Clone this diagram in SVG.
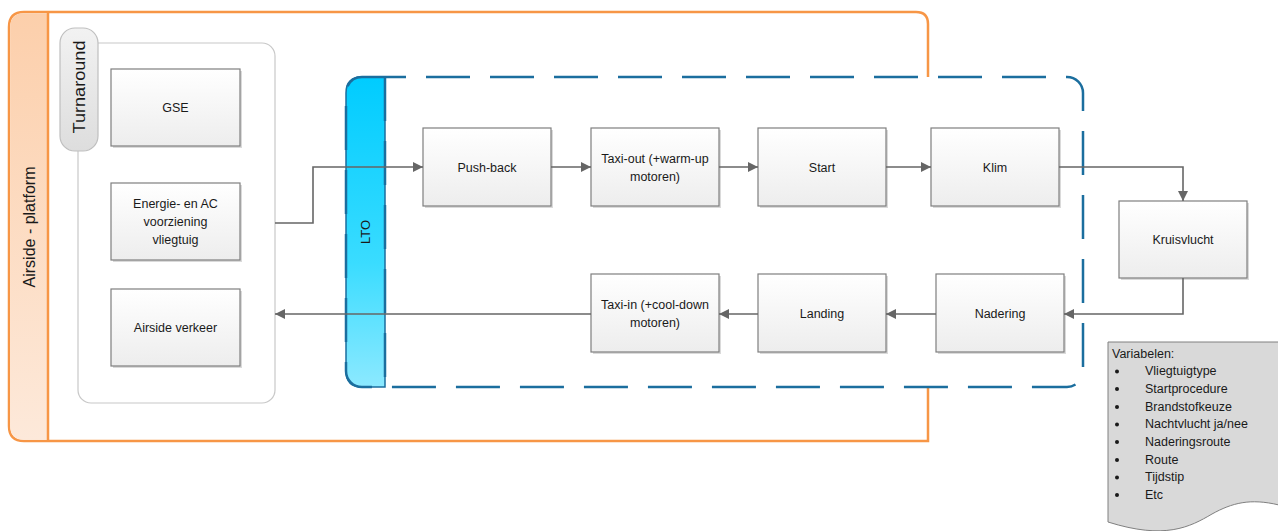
<svg xmlns="http://www.w3.org/2000/svg" width="1278" height="531" viewBox="0 0 1278 531">
<defs>
<linearGradient id="gBox" x1="0" y1="0" x2="0" y2="1"><stop offset="0" stop-color="#FFFFFF"/><stop offset="1" stop-color="#EDEDED"/></linearGradient>
<linearGradient id="gPeach" x1="0" y1="0" x2="0" y2="1"><stop offset="0" stop-color="#FCCFAB"/><stop offset="1" stop-color="#FDE9DA"/></linearGradient>
<linearGradient id="gCyan" x1="0" y1="0" x2="0" y2="1"><stop offset="0" stop-color="#00CCFF"/><stop offset="0.6" stop-color="#3ADCFF"/><stop offset="1" stop-color="#8CE9FF"/></linearGradient>
<linearGradient id="gTab" x1="0" y1="0" x2="0" y2="1"><stop offset="0" stop-color="#F2F2F2"/><stop offset="1" stop-color="#DDDDDD"/></linearGradient>
<marker id="arr" viewBox="0 0 10 10" refX="10" refY="5" markerWidth="10" markerHeight="10" markerUnits="userSpaceOnUse" orient="auto"><path d="M0,0 L10,5 L0,10 Z" fill="#666666"/></marker>
</defs>
<style>
.box{fill:url(#gBox);stroke:#7F7F7F;stroke-width:1.2}
.shadow{fill:#DADADA}
.t{font-family:"Liberation Sans",Arial,sans-serif;font-size:12.5px;fill:#1A1A1A;text-anchor:middle}
.c{fill:none;stroke:#666666;stroke-width:1.6;marker-end:url(#arr)}
.v{font-family:"Liberation Sans",Arial,sans-serif;font-size:12.5px;fill:#1A1A1A}
</style>
<rect width="1278" height="531" fill="#FFFFFF"/>

<g id="airside-platform">
<path d="M24,12 H916 Q928,12 928,24 V441 H24 Q9,441 9,426 V27 Q9,12 24,12 Z" fill="#FFFFFF" stroke="#F79646" stroke-width="2.5"/>
<path d="M24,13.2 H48 V439.8 H24 Q10.2,439.8 10.2,426 V27 Q10.2,13.2 24,13.2 Z" fill="url(#gPeach)"/>
<line x1="48" y1="12" x2="48" y2="441" stroke="#F79646" stroke-width="2.5"/>
<text x="0" y="0" transform="translate(35,227) rotate(-90)" font-family="Liberation Sans,Arial,sans-serif" font-size="16" fill="#1A1A1A" text-anchor="middle">Airside - platform</text>
</g>

<g id="turnaround">
<rect x="78" y="43" width="197" height="360" rx="13" fill="#FFFFFF" stroke="#C8C8C8" stroke-width="1.2"/>
<rect x="60" y="28" width="38" height="123" rx="15" fill="url(#gTab)" stroke="#BFBFBF" stroke-width="1.2"/>
<text x="0" y="0" transform="translate(85,87) rotate(-90)" font-family="Liberation Sans,Arial,sans-serif" font-size="16" fill="#1A1A1A" text-anchor="middle" textLength="93" lengthAdjust="spacingAndGlyphs">Turnaround</text>
</g>

<g id="gse"><rect class="shadow" x="113" y="71" width="129" height="77"/><rect class="box" x="111" y="69" width="129" height="77"/><text class="t" x="175.5" y="112">GSE</text></g>
<g id="energie"><rect class="shadow" x="113" y="185" width="129" height="77"/><rect class="box" x="111" y="183" width="129" height="77"/><text class="t" x="175.5" y="208">Energie- en AC</text><text class="t" x="175.5" y="226">voorziening</text><text class="t" x="175.5" y="244">vliegtuig</text></g>
<g id="airside-verkeer"><rect class="shadow" x="113" y="291" width="129" height="77"/><rect class="box" x="111" y="289" width="129" height="77"/><text class="t" x="175.5" y="332">Airside verkeer</text></g>

<g id="lto">
<rect x="346" y="77" width="737" height="310" rx="16" fill="#FFFFFF" stroke="none"/>
<path d="M362,77 H385 V387 H362 Q346,387 346,371 V93 Q346,77 362,77 Z" fill="url(#gCyan)" stroke="#1B6E9E" stroke-width="1.5"/>
<rect x="346" y="77" width="737" height="310" rx="16" fill="none" stroke="#1B6E9E" stroke-width="2.5" stroke-dasharray="44 20"/>
<line x1="385" y1="77" x2="385" y2="387" stroke="#1B6E9E" stroke-width="2.5" stroke-dasharray="44 20"/>
<text x="0" y="0" transform="translate(370,232) rotate(-90)" font-family="Liberation Sans,Arial,sans-serif" font-size="13" fill="#1A1A1A" text-anchor="middle">LTO</text>
</g>

<g id="push-back"><rect class="shadow" x="425" y="130" width="128" height="78"/><rect class="box" x="423" y="128" width="128" height="78"/><text class="t" x="487" y="172">Push-back</text></g>
<g id="taxi-out"><rect class="shadow" x="593" y="130" width="128" height="78"/><rect class="box" x="591" y="128" width="128" height="78"/><text class="t" x="655" y="163">Taxi-out (+warm-up</text><text class="t" x="655" y="181">motoren)</text></g>
<g id="start"><rect class="shadow" x="760" y="130" width="128" height="78"/><rect class="box" x="758" y="128" width="128" height="78"/><text class="t" x="822" y="172">Start</text></g>
<g id="klim"><rect class="shadow" x="933" y="130" width="128" height="78"/><rect class="box" x="931" y="128" width="128" height="78"/><text class="t" x="995" y="172">Klim</text></g>
<g id="kruisvlucht"><rect class="shadow" x="1121" y="203" width="128" height="77"/><rect class="box" x="1119" y="201" width="128" height="77"/><text class="t" x="1183" y="244">Kruisvlucht</text></g>
<g id="nadering"><rect class="shadow" x="938" y="276" width="128" height="78"/><rect class="box" x="936" y="274" width="128" height="78"/><text class="t" x="1000" y="318">Nadering</text></g>
<g id="landing"><rect class="shadow" x="760" y="276" width="128" height="78"/><rect class="box" x="758" y="274" width="128" height="78"/><text class="t" x="822" y="318">Landing</text></g>
<g id="taxi-in"><rect class="shadow" x="593" y="276" width="128" height="78"/><rect class="box" x="591" y="274" width="128" height="78"/><text class="t" x="655" y="309">Taxi-in (+cool-down</text><text class="t" x="655" y="327">motoren)</text></g>

<g id="connectors">
<path class="c" d="M275,223 H313 V167 H423"/>
<path class="c" d="M551,167 H591"/>
<path class="c" d="M719,167 H758"/>
<path class="c" d="M886,167 H931"/>
<path class="c" d="M1059,167 H1183 V201"/>
<path class="c" d="M1183,278 V314 H1064"/>
<path class="c" d="M936,314 H886"/>
<path class="c" d="M758,314 H719"/>
<path class="c" d="M591,314 H275"/>
</g>

<g id="variabelen">
<path d="M1108,342 H1279 V505 C1250,498 1232,503 1212,514 C1190,527 1165,540 1108,522 Z" fill="#D9D9D9" stroke="#808080" stroke-width="1"/>
<text class="v" x="1112" y="358">Variabelen:</text>
<g font-family="Liberation Sans,Arial,sans-serif" font-size="12.5" fill="#1A1A1A">
<circle cx="1117" cy="371.5" r="2"/><text x="1145" y="375">Vliegtuigtype</text>
<circle cx="1117" cy="389" r="2"/><text x="1145" y="393">Startprocedure</text>
<circle cx="1117" cy="407" r="2"/><text x="1145" y="411">Brandstofkeuze</text>
<circle cx="1117" cy="424.5" r="2"/><text x="1145" y="428">Nachtvlucht ja/nee</text>
<circle cx="1117" cy="442" r="2"/><text x="1145" y="446">Naderingsroute</text>
<circle cx="1117" cy="460" r="2"/><text x="1145" y="464">Route</text>
<circle cx="1117" cy="477.5" r="2"/><text x="1145" y="481">Tijdstip</text>
<circle cx="1117" cy="495" r="2"/><text x="1145" y="499">Etc</text>
</g>
</g>
</svg>
